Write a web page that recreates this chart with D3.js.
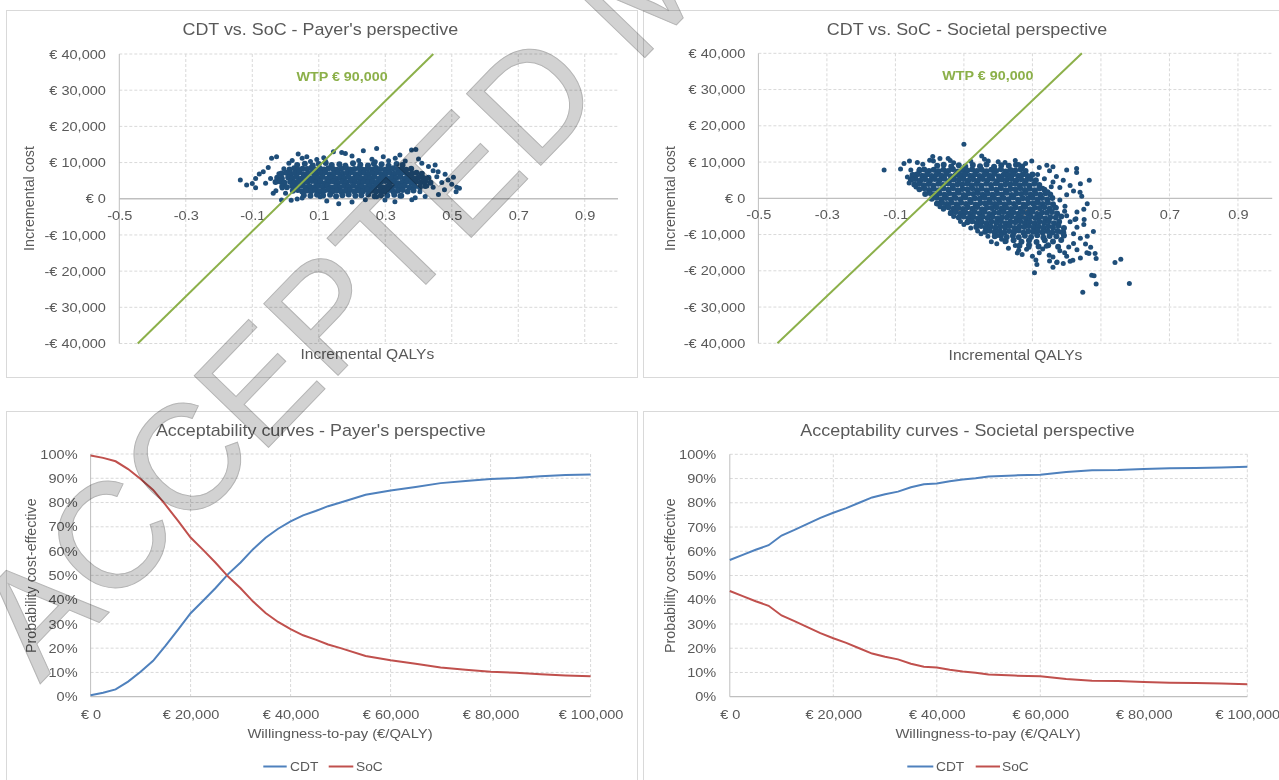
<!DOCTYPE html>
<html><head><meta charset="utf-8">
<script src="https://cdn.jsdelivr.net/npm/d3@7"></script>
<style>
body{margin:0;background:#fff;}
svg text{font-family:"Liberation Sans",Arial,sans-serif;fill:#595959;}
.st{transform-box:fill-box;transform-origin:center;transform:scaleX(1.12);}
.st-end{transform-box:fill-box;transform-origin:right center;transform:scaleX(1.12);}
.st-start{transform-box:fill-box;transform-origin:left center;transform:scaleX(1.12);}
</style></head><body>
<svg id="c" width="1279" height="780"></svg>
<script>
// ---------------- DATA ----------------
const qalyTicks = [-0.5,-0.3,-0.1,0.1,0.3,0.5,0.7,0.9];
const costTicks = [-40000,-30000,-20000,-10000,0,10000,20000,30000,40000];
const wtpTicks = [0,20000,40000,60000,80000,100000];
const pctTicks = [0,10,20,30,40,50,60,70,80,90,100];
const wtpThreshold = 90000;
const seriesNames = ["CDT","SoC"];

// payer's perspective scatter: [incremental QALY, incremental cost €]
const payerOuter = [[-0.136,5150],[-0.117,3780],[-0.09,3040],[-0.09,5630],[-0.079,6820],[-0.067,7460],[-0.052,8670],[-0.042,11160],[-0.027,11600],[-0.037,1490],[-0.029,2210],[-0.012,-360],[-0.1,4200],[-0.06,4300],[-0.045,5600],[-0.02,6900],[-0.005,8300],[0.01,9800],[0.02,10600],[0.038,12350],[0.05,11200],[0.064,11600],[0.075,10300],[0.094,10880],[0.115,11300],[0.144,12980],[0.169,12810],[0.2,11800],[0.22,10600],[0.234,13260],[0.26,10900],[0.274,13920],[0.294,11600],[0.31,10500],[0.33,11200],[0.344,12070],[0.36,10400],[0.379,13450],[0.392,13640],[0.41,9800],[0.43,8900],[0.444,7730],[0.459,7460],[0.48,6800],[0.455,6100],[0.47,4500],[0.489,5160],[0.505,5910],[0.5,4000],[0.515,3150],[0.523,2870],[0.513,1930],[0.478,2500],[0.46,1200],[0.444,3150],[0.425,3500],[0.404,1930],[0.42,600],[0.39,300],[0.38,-300],[0.344,750],[0.329,-830],[0.299,-360],[0.274,550],[0.2,-900],[0.16,-1400],[0.124,-640],[0.104,550],[0.094,1020],[0.05,200],[0.0,1500],[-0.01,3000],[0.017,-400],[0.24,-300],[0.18,12500],[0.12,10400],[0.27,10200],[0.4,11000],[0.45,9300],[0.035,-100]];
const payerCore = [
[0.035,9300],[0.058,9700],[0.082,9200],[0.1,9600],[0.121,9900],[0.139,9300],[0.162,9500],[0.18,9100],[0.203,9800],[0.225,9400],[0.248,9200],[0.266,9700],[0.289,9500],[0.31,9100],[0.334,9600],[0.352,9300],
[0.012,8100],[0.026,8400],[0.038,8000],[0.051,8300],[0.065,8200],[0.077,8500],[0.09,8000],[0.104,8300],[0.116,8100],[0.129,8400],[0.143,8200],[0.155,8000],[0.168,8300],[0.182,8500],[0.194,8100],[0.207,8200],[0.221,8400],[0.233,8000],[0.246,8300],[0.26,8100],[0.272,8500],[0.285,8200],[0.299,8000],[0.311,8300],[0.324,8400],[0.338,8100],[0.35,8200],[0.363,8000],[0.378,8300],
[-0.012,7000],[0.002,7200],[0.015,6900],[0.028,7100],[0.041,7300],[0.054,6800],[0.067,7000],[0.08,7200],[0.093,6900],[0.106,7100],[0.119,7300],[0.132,6800],[0.145,7000],[0.158,7200],[0.171,6900],[0.184,7100],[0.197,7300],[0.21,6800],[0.223,7000],[0.236,7200],[0.249,6900],[0.262,7100],[0.275,7300],[0.288,6800],[0.301,7000],[0.314,7200],[0.327,6900],[0.34,7100],[0.353,7300],[0.366,6800],[0.38,7000],[0.394,7200],[0.41,6900],
[-0.025,5800],[-0.011,5600],[0.008,5900],[0.021,5700],[0.034,6000],[0.047,5500],[0.06,5800],[0.073,5600],[0.086,5900],[0.099,5700],[0.112,6000],[0.125,5500],[0.138,5800],[0.151,5600],[0.164,5900],[0.177,5700],[0.19,6000],[0.203,5500],[0.216,5800],[0.229,5600],[0.242,5900],[0.255,5700],[0.268,6000],[0.281,5500],[0.294,5800],[0.307,5600],[0.32,5900],[0.333,5700],[0.346,6000],[0.359,5500],[0.372,5800],[0.386,5600],[0.4,5900],[0.415,5700],[0.43,5800],
[-0.03,4600],[-0.016,4800],[-0.003,4400],[0.014,4700],[0.027,4500],[0.04,4800],[0.053,4400],[0.066,4600],[0.079,4900],[0.092,4500],[0.105,4700],[0.118,4300],[0.131,4600],[0.144,4800],[0.157,4400],[0.17,4700],[0.183,4500],[0.196,4900],[0.209,4600],[0.222,4400],[0.235,4700],[0.248,4500],[0.261,4800],[0.274,4400],[0.287,4600],[0.3,4900],[0.313,4500],[0.326,4700],[0.339,4300],[0.352,4600],[0.365,4800],[0.378,4400],[0.392,4700],[0.406,4500],[0.42,4800],[0.436,4400],
[-0.01,3400],[0.004,3200],[0.02,3500],[0.034,3300],[0.047,3600],[0.06,3100],[0.073,3400],[0.086,3200],[0.099,3500],[0.112,3300],[0.125,3600],[0.138,3100],[0.151,3400],[0.164,3200],[0.177,3500],[0.19,3300],[0.203,3600],[0.216,3100],[0.229,3400],[0.242,3200],[0.255,3500],[0.268,3300],[0.281,3600],[0.294,3100],[0.307,3400],[0.32,3200],[0.333,3500],[0.346,3300],[0.359,3600],[0.373,3100],[0.388,3400],[0.404,3200],[0.42,3500],
[0.022,2200],[0.037,2400],[0.05,2000],[0.064,2300],[0.077,2100],[0.09,2400],[0.103,2000],[0.116,2200],[0.129,2500],[0.142,2100],[0.155,2300],[0.168,1900],[0.181,2200],[0.194,2400],[0.207,2000],[0.22,2300],[0.233,2100],[0.246,2500],[0.259,2200],[0.272,2000],[0.285,2300],[0.298,2100],[0.311,2400],[0.324,2000],[0.338,2200],[0.352,2400],[0.367,2000],[0.385,2300],
[0.055,1000],[0.075,800],[0.095,1200],[0.113,900],[0.134,1100],[0.152,700],[0.171,1000],[0.19,1200],[0.21,800],[0.228,1000],[0.249,1200],[0.268,700],[0.287,1000],[0.306,900],[0.327,1100],[0.348,800]];

// societal perspective scatter: [incremental QALY, incremental cost €]
const societalOuter = [[-0.133,7840],[-0.059,10300],[-0.055,7840],[-0.06,4190],[-0.036,9860],[0.009,11500],[0.011,10300],[0.054,10960],[0.1,14880],[0.152,11670],[0.171,10300],[0.298,10300],[0.342,9120],[0.429,8220],[0.429,7120],[0.466,5010],[0.439,1640],[0.444,550],[0.395,-2190],[0.424,-5860],[0.451,-5860],[0.478,-9150],[0.459,-14990],[0.483,-15260],[0.486,-16630],[0.473,-21200],[0.486,-23670],[0.447,-25950],[0.541,-17730],[0.558,-16820],[0.583,-23480],[0.306,-20550],[0.313,-18280],[0.371,-17730],[0.41,-17370],[0.349,-15730],[0.256,-15070],[0.283,-14080],[0.196,-12520],[0.198,-10250],[0.394,-3560],[0.427,-5670],[0.382,-9320],[0.406,-13430],[0.465,-15260],[0.372,-17540],[0.418,-17100],[0.394,-14990],[0.48,-21370],[-0.045,6500],[-0.03,8000],[-0.02,9400],[-0.05,5200],[-0.065,5900],[-0.04,3100],[0.0,10500],[0.03,11000],[0.07,9800],[0.12,10200],[0.2,10100],[0.22,9900],[0.25,10400],[0.28,9600],[0.32,8500],[0.35,7600],[0.37,6000],[0.39,5000],[0.41,3500],[0.4,1000],[0.38,-500],[0.36,8700],[0.4,7800],[0.3,-16000],[0.33,-14000],[0.25,-13000],[0.22,-12000],[0.17,-10500],[0.14,-9000],[0.1,-7200],[0.07,-5000],[0.04,-3000],[0.02,-1500],[0.43,-8000],[0.44,-11000],[0.42,-12500],[0.36,-19000],[0.45,-3000],[0.33,2800],[0.315,6600],[0.455,-12600],
[0.23,-13800],[0.27,-15500],[0.29,-13500],[0.32,-15000],[0.34,-13200],[0.36,-16200],[0.38,-14500],[0.4,-16000],[0.43,-14200],[0.44,-16500],[0.47,-13500],[0.39,-18000],[0.35,-17300],[0.31,-17000],[0.26,-14300],[0.21,-11300],[0.18,-12000],[0.15,-9800],[0.12,-8200],[0.09,-6400],[0.06,-4200],[0.03,-2300],[0.45,-7200],[0.46,-10500],[0.42,-9800],[0.41,-6500],[0.43,-3800],[0.46,-1500],[0.42,2000],[0.38,3000],[0.44,4000],[0.36,4500],[0.345,1800],[0.37,-2600],[0.4,-4800],[0.335,5400],[0.355,3200],[-0.075,9600],[-0.085,8100],[0.06,10400],[0.16,10800],[0.26,9300]];
const societalCore = [
[0.022,9000],[0.041,9250],[0.063,8800],[0.085,9150],[0.104,8750],[0.126,9200],[0.147,8850],[0.166,9300],[0.188,8700],[0.209,9100],[0.231,9000],[0.252,9250],[0.27,8800],
[-0.03,7700],[-0.016,7950],[-0.002,7500],[0.012,7850],[0.026,7450],[0.04,7900],[0.054,7550],[0.068,8000],[0.082,7400],[0.096,7800],[0.11,7700],[0.124,7950],[0.138,7500],[0.152,7850],[0.166,7450],[0.18,7900],[0.194,7550],[0.208,8000],[0.222,7400],[0.236,7800],[0.25,7700],[0.265,7950],[0.28,7500],
[-0.05,6400],[-0.036,6650],[-0.022,6200],[-0.008,6550],[0.006,6150],[0.02,6600],[0.034,6250],[0.048,6700],[0.062,6100],[0.076,6500],[0.09,6400],[0.104,6650],[0.118,6200],[0.132,6550],[0.146,6150],[0.16,6600],[0.174,6250],[0.188,6700],[0.202,6100],[0.216,6500],[0.23,6400],[0.244,6650],[0.258,6200],[0.272,6550],[0.286,6150],[0.3,6600],
[-0.055,5100],[-0.041,5350],[-0.027,4900],[-0.013,5250],[0.001,4850],[0.015,5300],[0.029,4950],[0.043,5400],[0.057,4800],[0.071,5200],[0.085,5100],[0.099,5350],[0.113,4900],[0.127,5250],[0.141,4850],[0.155,5300],[0.169,4950],[0.183,5400],[0.197,4800],[0.211,5200],[0.225,5100],[0.239,5350],[0.253,4900],[0.267,5250],[0.281,4850],[0.295,5300],[0.31,4950],
[-0.045,3800],[-0.031,4050],[-0.017,3600],[-0.003,3950],[0.011,3550],[0.025,4000],[0.039,3650],[0.053,4100],[0.067,3500],[0.081,3900],[0.095,3800],[0.109,4050],[0.123,3600],[0.137,3950],[0.151,3550],[0.165,4000],[0.179,3650],[0.193,4100],[0.207,3500],[0.221,3900],[0.235,3800],[0.249,4050],[0.263,3600],[0.277,3950],[0.291,3550],[0.305,4000],[0.32,3650],
[-0.03,2500],[-0.016,2750],[-0.002,2300],[0.012,2650],[0.026,2250],[0.04,2700],[0.054,2350],[0.068,2800],[0.082,2200],[0.096,2600],[0.11,2500],[0.124,2750],[0.138,2300],[0.152,2650],[0.166,2250],[0.18,2700],[0.194,2350],[0.208,2800],[0.222,2200],[0.236,2600],[0.25,2500],[0.264,2750],[0.278,2300],[0.292,2650],[0.306,2250],[0.32,2700],[0.335,2350],
[-0.013,1200],[0.001,1450],[0.015,1000],[0.029,1350],[0.043,950],[0.057,1400],[0.071,1050],[0.085,1500],[0.099,900],[0.113,1300],[0.127,1200],[0.141,1450],[0.155,1000],[0.169,1350],[0.183,950],[0.197,1400],[0.211,1050],[0.225,1500],[0.239,900],[0.253,1300],[0.267,1200],[0.281,1450],[0.295,1000],[0.309,1350],[0.323,950],[0.338,1400],[0.352,1050],
[0.006,-100],[0.02,150],[0.034,-300],[0.048,50],[0.062,-350],[0.076,100],[0.09,-250],[0.104,200],[0.118,-400],[0.132,0],[0.146,-100],[0.16,150],[0.174,-300],[0.188,50],[0.202,-350],[0.216,100],[0.23,-250],[0.244,200],[0.258,-400],[0.272,0],[0.286,-100],[0.3,150],[0.314,-300],[0.328,50],[0.343,-350],[0.358,100],
[0.022,-1400],[0.036,-1150],[0.05,-1600],[0.064,-1250],[0.078,-1650],[0.092,-1200],[0.106,-1550],[0.12,-1100],[0.134,-1700],[0.148,-1300],[0.162,-1400],[0.176,-1150],[0.19,-1600],[0.204,-1250],[0.218,-1650],[0.232,-1200],[0.246,-1550],[0.26,-1100],[0.274,-1700],[0.288,-1300],[0.302,-1400],[0.316,-1150],[0.33,-1600],[0.345,-1250],[0.36,-1650],
[0.041,-2700],[0.055,-2450],[0.069,-2900],[0.083,-2550],[0.097,-2950],[0.111,-2500],[0.125,-2850],[0.139,-2400],[0.153,-3000],[0.167,-2600],[0.181,-2700],[0.195,-2450],[0.209,-2900],[0.223,-2550],[0.237,-2950],[0.251,-2500],[0.265,-2850],[0.279,-2400],[0.293,-3000],[0.307,-2600],[0.321,-2700],[0.335,-2450],[0.35,-2900],[0.366,-2550],
[0.062,-4000],[0.076,-3750],[0.09,-4200],[0.104,-3850],[0.118,-4250],[0.132,-3800],[0.146,-4150],[0.16,-3700],[0.174,-4300],[0.188,-3900],[0.202,-4000],[0.216,-3750],[0.23,-4200],[0.244,-3850],[0.258,-4250],[0.272,-3800],[0.286,-4150],[0.3,-3700],[0.314,-4300],[0.328,-3900],[0.342,-4000],[0.357,-3750],[0.372,-4200],
[0.085,-5300],[0.099,-5050],[0.113,-5500],[0.127,-5150],[0.141,-5550],[0.155,-5100],[0.169,-5450],[0.183,-5000],[0.197,-5600],[0.211,-5200],[0.225,-5300],[0.239,-5050],[0.253,-5500],[0.267,-5150],[0.281,-5550],[0.295,-5100],[0.309,-5450],[0.323,-5000],[0.337,-5600],[0.352,-5200],[0.368,-5300],[0.384,-5050],
[0.11,-6600],[0.124,-6350],[0.138,-6800],[0.152,-6450],[0.166,-6850],[0.18,-6400],[0.194,-6750],[0.208,-6300],[0.222,-6900],[0.236,-6500],[0.25,-6600],[0.264,-6350],[0.278,-6800],[0.292,-6450],[0.306,-6850],[0.32,-6400],[0.334,-6750],[0.348,-6300],[0.363,-6900],[0.378,-6500],
[0.136,-7900],[0.15,-7650],[0.164,-8100],[0.178,-7750],[0.192,-8150],[0.206,-7700],[0.22,-8050],[0.234,-7600],[0.248,-8200],[0.262,-7800],[0.276,-7900],[0.29,-7650],[0.304,-8100],[0.318,-7750],[0.332,-8150],[0.346,-7700],[0.36,-8050],[0.376,-7600],[0.392,-8200],
[0.162,-9200],[0.176,-8950],[0.19,-9400],[0.204,-9050],[0.218,-9450],[0.232,-9000],[0.246,-9350],[0.26,-8900],[0.274,-9500],[0.288,-9100],[0.302,-9200],[0.316,-8950],[0.33,-9400],[0.344,-9050],[0.358,-9450],[0.373,-9000],[0.39,-9350],
[0.19,-10500],[0.208,-10250],[0.225,-10700],[0.243,-10350],[0.26,-10750],[0.278,-10300],[0.296,-10650],[0.314,-10200],[0.332,-10800],[0.35,-10400],[0.37,-10500],[0.392,-10250],
[0.222,-11800],[0.245,-11550],[0.268,-12000],[0.29,-11650],[0.312,-12050],[0.336,-11600],[0.36,-11950],[0.384,-11500],
[0.262,-13100],[0.29,-12850],[0.318,-13300],[0.346,-12950],[0.375,-13350]];

// acceptability curves: willingness-to-pay (€/QALY) and probability cost-effective (%)
const wtpGrid = [0,2500,5000,7500,10000,12500,15000,17500,20000,22500,25000,27500,30000,32500,35000,37500,40000,42500,45000,47500,50000,55000,60000,65000,70000,75000,80000,85000,90000,95000,100000];
const payerCDT = [0.6,1.6,3.0,6.2,10.3,14.8,21.0,27.6,34.4,39.5,44.8,50.5,55.3,60.8,65.5,69.2,72.2,74.7,76.5,78.5,80.0,83.2,85.0,86.4,88.0,88.9,89.7,90.1,90.8,91.3,91.6];
const payerSoC = [99.4,98.4,97.0,93.8,89.7,85.2,79.0,72.4,65.6,60.5,55.2,49.5,44.7,39.2,34.5,30.8,27.8,25.3,23.5,21.5,20.0,16.8,15.0,13.6,12.0,11.1,10.3,9.9,9.2,8.7,8.4];
const societalCDT = [56.4,58.5,60.6,62.5,66.5,68.8,71.3,73.8,75.9,77.8,80.0,82.2,83.5,84.6,86.4,87.6,88.0,88.9,89.6,90.1,90.8,91.3,91.6,92.7,93.4,93.5,93.9,94.2,94.3,94.6,94.9];
const societalSoC = [43.6,41.5,39.4,37.5,33.5,31.2,28.7,26.2,24.1,22.2,20.0,17.8,16.5,15.4,13.6,12.4,12.0,11.1,10.4,9.9,9.2,8.7,8.4,7.3,6.6,6.5,6.1,5.8,5.7,5.4,5.1];

// ---------------- DRAWING ----------------
const svg = d3.select("#c");
const TXT = "#595959", GRID = "#d9d9d9", AXIS = "#bfbfbf";
const NAVY = "#1f4e79", GREEN = "#8cb04a", BLUE = "#4f81bd", RED = "#c0504d";
const fmtN = d3.format(",");
const fmtCost = v => (v < 0 ? "-€ " : "€ ") + fmtN(Math.abs(v));
const fmtEuro = v => "€ " + fmtN(v);

svg.append("rect").attr("width",1279).attr("height",780).attr("fill","#fff");
[[6,10,631,367],[643,10,660,367],[6,411,631,390],[643,411,660,390]].forEach(r=>{
  svg.append("rect").attr("x",r[0]+0.5).attr("y",r[1]+0.5).attr("width",r[2]).attr("height",r[3])
    .attr("fill","#fff").attr("stroke","#d9d9d9");
});

function styleAxis(g, cls){
  g.select(".domain").remove();
  g.attr("font-family",null).attr("font-size",13).attr("fill",null);
  g.selectAll("text").attr("fill",TXT).attr("class",cls);
}

function title(x,y,t,size){
  svg.append("text").attr("x",x).attr("y",y).attr("text-anchor","middle")
    .attr("font-size",size).attr("class","st").text(t);
}
function yTitle(x,y,t){
  svg.append("text").attr("transform",`translate(${x},${y}) rotate(-90)`)
    .attr("text-anchor","middle").attr("font-size",14.3).text(t);
}

function scatterPanel(c, outer, core){
  const x = d3.scaleLinear().domain([-0.5,1.0]).range([c.left,c.right]);
  const y = d3.scaleLinear().domain([-40000,40000]).range([c.bottom,c.top]);
  const g = svg.append("g");
  g.selectAll(".hg").data(costTicks.filter(v=>v!==0)).join("line")
    .attr("x1",c.left).attr("x2",c.right).attr("y1",d=>y(d)).attr("y2",d=>y(d))
    .attr("stroke",GRID).attr("stroke-dasharray","3,2");
  g.selectAll(".vg").data(qalyTicks.filter(v=>v!==-0.5)).join("line")
    .attr("x1",d=>x(d)).attr("x2",d=>x(d)).attr("y1",c.top).attr("y2",c.bottom)
    .attr("stroke",GRID).attr("stroke-dasharray","3,2");
  g.append("line").attr("x1",x(-0.5)).attr("x2",x(-0.5)).attr("y1",c.top).attr("y2",c.bottom).attr("stroke",AXIS);
  g.append("line").attr("x1",c.left).attr("x2",c.right).attr("y1",y(0)).attr("y2",y(0)).attr("stroke",AXIS).attr("stroke-width",1.3);

  const ya = g.append("g").attr("transform",`translate(${c.yLab},0)`)
    .call(d3.axisLeft(y).tickValues(costTicks).tickSize(0).tickPadding(0).tickFormat(fmtCost));
  styleAxis(ya,"st-end");
  const xa = g.append("g").attr("transform",`translate(0,${y(0)+16.3})`)
    .call(d3.axisBottom(x).tickValues(qalyTicks).tickSize(0).tickPadding(0).tickFormat(d=>String(d)));
  styleAxis(xa,"st");
  xa.selectAll("text").attr("y",0).attr("dy","0.35em");

  const pg = g.append("g").attr("fill",NAVY);
  pg.selectAll(".core").data(core).join("circle")
    .attr("cx",d=>x(d[0])).attr("cy",d=>y(d[1])).attr("r",3.0);
  pg.selectAll(".outer").data(outer).join("circle")
    .attr("cx",d=>x(d[0])).attr("cy",d=>y(d[1])).attr("r",2.5);

  const q0 = -40000/wtpThreshold, q1 = 40000/wtpThreshold;
  g.append("path").datum([q0,q1])
    .attr("d",d3.line().x(d=>x(d)).y(d=>y(d*wtpThreshold)))
    .attr("stroke",GREEN).attr("stroke-width",2).attr("fill","none");
  g.append("text").attr("x",x(0.17)).attr("y",y(32600)).attr("text-anchor","middle")
    .attr("font-size",12.8).attr("font-weight","bold").attr("class","st")
    .style("fill",GREEN).text("WTP € " + fmtN(wtpThreshold));

  title(c.tx,35,c.title,16);
  title(c.xtx,c.xty,"Incremental QALYs",13.9);
  yTitle(c.ytx,198.5,"Incremental cost");
}

function ceacPanel(c, cdt, soc){
  const x = d3.scaleLinear().domain([0,100000]).range([c.left,c.right]);
  const y = d3.scaleLinear().domain([0,100]).range([c.bottom,c.top]);
  const g = svg.append("g");
  g.selectAll(".hg").data(pctTicks.filter(v=>v!==0)).join("line")
    .attr("x1",c.left).attr("x2",c.right).attr("y1",d=>y(d)).attr("y2",d=>y(d))
    .attr("stroke",GRID).attr("stroke-dasharray","3,2");
  g.selectAll(".vg").data(wtpTicks.filter(v=>v!==0)).join("line")
    .attr("x1",d=>x(d)).attr("x2",d=>x(d)).attr("y1",c.top).attr("y2",c.bottom)
    .attr("stroke",GRID).attr("stroke-dasharray","3,2");
  g.append("line").attr("x1",c.left).attr("x2",c.left).attr("y1",c.top).attr("y2",c.bottom).attr("stroke",AXIS);
  g.append("line").attr("x1",c.left).attr("x2",c.right).attr("y1",c.bottom).attr("y2",c.bottom).attr("stroke",AXIS).attr("stroke-width",1.3);

  const ya = g.append("g").attr("transform",`translate(${c.yLab},0)`)
    .call(d3.axisLeft(y).tickValues(pctTicks).tickSize(0).tickPadding(0).tickFormat(d=>d+"%"));
  styleAxis(ya,"st-end");
  const xa = g.append("g").attr("transform",`translate(0,714)`)
    .call(d3.axisBottom(x).tickValues(wtpTicks).tickSize(0).tickPadding(0).tickFormat(fmtEuro));
  styleAxis(xa,"st");
  xa.selectAll("text").attr("y",0).attr("dy","0.35em");

  const line = d3.line().x((d,i)=>x(wtpGrid[i])).y(d=>y(d));
  g.append("path").datum(cdt).attr("d",line).attr("stroke",BLUE).attr("stroke-width",2).attr("fill","none");
  g.append("path").datum(soc).attr("d",line).attr("stroke",RED).attr("stroke-width",2).attr("fill","none");

  title(c.tx,c.ty,c.title,16);
  title(c.xtx,738.3,"Willingness-to-pay (€/QALY)",13.2);
  yTitle(c.ytx,575.7,"Probability cost-effective");

  const lg = svg.append("g");
  [[BLUE,seriesNames[0]],[RED,seriesNames[1]]].forEach((s,i)=>{
    const l = c.leg[i];
    lg.append("line").attr("x1",l[0]).attr("x2",l[1]).attr("y1",766.5).attr("y2",766.5)
      .attr("stroke",s[0]).attr("stroke-width",2);
    lg.append("text").attr("x",l[2]).attr("y",771).attr("font-size",12.3).attr("class","st-start").text(s[1]);
  });
}

scatterPanel({left:119.3,right:618,top:54,bottom:343.5,yLab:106,tx:320.3,title:"CDT vs. SoC - Payer's perspective",xtx:367.3,xty:359,ytx:33.5},
  payerOuter, payerCore);
scatterPanel({left:758.4,right:1272.2,top:53.3,bottom:343.3,yLab:745.3,tx:967,title:"CDT vs. SoC - Societal perspective",xtx:1015.5,xty:360,ytx:675},
  societalOuter, societalCore);
ceacPanel({left:90.6,right:590.6,top:454,bottom:696.7,yLab:77.6,tx:320.8,ty:435.6,title:"Acceptability curves - Payer's perspective",xtx:340,ytx:36,
  leg:[[263.3,286.7,290],[328.7,353.3,356]]}, payerCDT, payerSoC);
ceacPanel({left:729.8,right:1247.3,top:454.3,bottom:696.7,yLab:716.3,tx:967.5,ty:436.3,title:"Acceptability curves - Societal perspective",xtx:988,ytx:674.5,
  leg:[[907.3,933.3,936],[975.7,1000,1002]]}, societalCDT, societalSoC);

// watermark
svg.append("text").attr("transform","translate(40,684) rotate(-46)")
  .attr("font-family","'Liberation Serif','Times New Roman',serif").attr("font-size",150)
  .style("fill","#d2d2d2").style("stroke","#b5b5b5").style("stroke-width",1)
  .style("mix-blend-mode","multiply")
  .text("ACCEPTED MANUSCRIPT");
</script>
</body></html>
